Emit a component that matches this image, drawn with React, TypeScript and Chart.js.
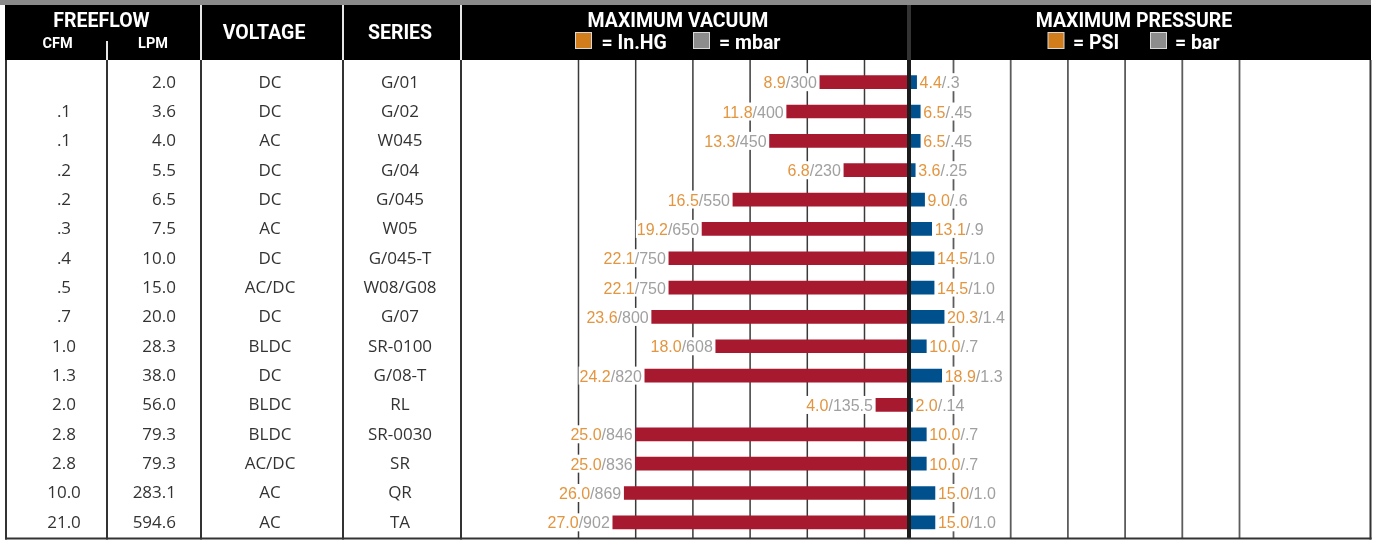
import React, { useEffect, useRef } from 'react';
import { Chart, registerables } from 'chart.js';

Chart.register(...registerables);

// ---------------- data ----------------
const cfm = ['', '.1', '.1', '.2', '.2', '.3', '.4', '.5', '.7', '1.0', '1.3', '2.0', '2.8', '2.8', '10.0', '21.0'];
const lpm = ['2.0', '3.6', '4.0', '5.5', '6.5', '7.5', '10.0', '15.0', '20.0', '28.3', '38.0', '56.0', '79.3', '79.3', '283.1', '594.6'];
const voltage = ['DC', 'DC', 'AC', 'DC', 'DC', 'AC', 'DC', 'AC/DC', 'DC', 'BLDC', 'DC', 'BLDC', 'BLDC', 'AC/DC', 'AC', 'AC'];
const series = ['G/01', 'G/02', 'W045', 'G/04', 'G/045', 'W05', 'G/045-T', 'W08/G08', 'G/07', 'SR-0100', 'G/08-T', 'RL', 'SR-0030', 'SR', 'QR', 'TA'];
const vacuumInHg = [8.9, 11.8, 13.3, 6.8, 16.5, 19.2, 22.1, 22.1, 23.6, 18.0, 24.2, 4.0, 25.0, 25.0, 26.0, 27.0];
const vacuumMbar = ['300', '400', '450', '230', '550', '650', '750', '750', '800', '608', '820', '135.5', '846', '836', '869', '902'];
const pressurePsi = [4.4, 6.5, 6.5, 3.6, 9.0, 13.1, 14.5, 14.5, 20.3, 10.0, 18.9, 2.0, 10.0, 10.0, 15.0, 15.0];
const pressureBar = ['.3', '.45', '.45', '.25', '.6', '.9', '1.0', '1.0', '1.4', '.7', '1.3', '.14', '.7', '.7', '1.0', '1.0'];
const vacuumGridInHg = [5, 10, 15, 20, 25, 30];

// ---------------- layout / style ----------------
const W = 1373;
const H = 540;
const HEADER_TOP = 5;
const HEADER_BOTTOM = 60;
const TABLE_LEFT = 6;
const TABLE_RIGHT = 1370.5;
const TABLE_BOTTOM = 538.5;
const PLOT_LEFT = 461;
const CENTER_X = 909;
const PLOT_RIGHT = 1370;
const ROW_TOP = 67.5;
const ROW_BOTTOM = 537;

const VAC_AT_CENTER = 1.11; // in.Hg value sitting on the centre line
const VAC_PX_PER_UNIT = 11.44;
const VAC_MAX = VAC_AT_CENTER + (CENTER_X - PLOT_LEFT) / VAC_PX_PER_UNIT;
const PSI_PX_PER_UNIT = 1.73;
const PSI_MAX = (PLOT_RIGHT - CENTER_X) / PSI_PX_PER_UNIT;

const RED = '#A6192E';
const BLUE = '#00508E';
const ORANGE_TXT = '#E3953F';
const GREY_TXT = '#A0A0A0';
const ORANGE_KEY = '#D17D1C';
const GREY_KEY = '#8C8C8C';

const HEAD_FONT = 'bold 19.5px Roboto';
const SUB_FONT = 'bold 14.5px Roboto';
const ROW_FONT = '17px "Open Sans"';
const LABEL_FONT = '16px "Liberation Sans"';

function vline(ctx: CanvasRenderingContext2D, x: number, y1: number, y2: number, color: string, w: number) {
  ctx.strokeStyle = color;
  ctx.lineWidth = w;
  ctx.beginPath();
  ctx.moveTo(x, y1);
  ctx.lineTo(x, y2);
  ctx.stroke();
}

function drawPair(ctx: CanvasRenderingContext2D, a: string, b: string, x: number, y: number, align: 'left' | 'right') {
  ctx.font = LABEL_FONT;
  const wa = ctx.measureText(a).width;
  const wb = ctx.measureText(b).width;
  const start = align === 'right' ? x - wa - wb : x;
  ctx.fillStyle = '#fff';
  ctx.fillRect(start - 1, y - 9, wa + wb + 2, 18);
  ctx.textAlign = 'left';
  ctx.textBaseline = 'alphabetic';
  ctx.fillStyle = ORANGE_TXT;
  ctx.fillText(a, start, y + 6);
  ctx.fillStyle = GREY_TXT;
  ctx.fillText(b, start + wa, y + 6);
}

function keySquare(ctx: CanvasRenderingContext2D, x: number, y: number, fill: string) {
  ctx.fillStyle = '#d8d8d8';
  ctx.fillRect(x, y, 17, 17);
  ctx.fillStyle = fill;
  ctx.fillRect(x + 1, y + 1, 15, 15);
}

const tablePlugin = {
  id: 'pumpTable',
  beforeDraw(chart: any) {
    const ctx: CanvasRenderingContext2D = chart.ctx;
    ctx.save();
    ctx.fillStyle = '#fff';
    ctx.fillRect(0, 0, W, H);
    // top strip + header band
    ctx.fillStyle = '#8A8A8A';
    ctx.fillRect(0, 0, 1371, HEADER_TOP);
    ctx.fillStyle = '#000';
    ctx.fillRect(5, HEADER_TOP, 1366, HEADER_BOTTOM - HEADER_TOP);

    // header dividers
    vline(ctx, 107, 41, HEADER_BOTTOM, '#e6e6e6', 2);
    vline(ctx, 201, HEADER_TOP, HEADER_BOTTOM, '#e6e6e6', 2);
    vline(ctx, 343, HEADER_TOP, HEADER_BOTTOM, '#e6e6e6', 2);
    vline(ctx, 461, HEADER_TOP, HEADER_BOTTOM, '#e6e6e6', 2);
    vline(ctx, CENTER_X, HEADER_TOP, HEADER_BOTTOM, '#333', 4);

    // header texts
    ctx.fillStyle = '#fff';
    ctx.textBaseline = 'alphabetic';
    ctx.textAlign = 'center';
    ctx.font = HEAD_FONT;
    ctx.fillText('FREEFLOW', 101.5, 26.5);
    ctx.fillText('VOLTAGE', 264, 39);
    ctx.fillText('SERIES', 400, 39);
    ctx.fillText('MAXIMUM VACUUM', 678, 26.5);
    ctx.fillText('MAXIMUM PRESSURE', 1134, 26.5);
    ctx.font = SUB_FONT;
    ctx.fillText('CFM', 57.5, 48);
    ctx.fillText('LPM', 153, 48);

    // legends
    ctx.textAlign = 'left';
    ctx.font = HEAD_FONT;
    keySquare(ctx, 575, 32, ORANGE_KEY);
    ctx.fillStyle = '#fff';
    ctx.fillText('= In.HG', 601.5, 48.5);
    keySquare(ctx, 693, 32, GREY_KEY);
    ctx.fillStyle = '#fff';
    ctx.fillText('= mbar', 719, 48.5);
    keySquare(ctx, 1047.5, 32, ORANGE_KEY);
    ctx.fillStyle = '#fff';
    ctx.fillText('= PSI', 1073, 48.5);
    keySquare(ctx, 1150, 32, GREY_KEY);
    ctx.fillStyle = '#fff';
    ctx.fillText('= bar', 1175, 48.5);
    ctx.restore();
  },
  beforeDatasetsDraw(chart: any) {
    const ctx: CanvasRenderingContext2D = chart.ctx;
    const xv = chart.scales.xv;
    const centre = xv.getPixelForValue(xv.min);
    ctx.save();
    for (const t of xv.ticks) {
      const px = xv.getPixelForValue(t.value);
      vline(ctx, px, HEADER_BOTTOM, TABLE_BOTTOM, '#3a3a3a', 1.5);
      // pressure side grid mirrors the vacuum grid about the centre line
      vline(ctx, 2 * centre - px, HEADER_BOTTOM, TABLE_BOTTOM, '#5c5c5c', 1.8);
    }
    ctx.restore();
  },
  afterDatasetsDraw(chart: any) {
    const ctx: CanvasRenderingContext2D = chart.ctx;
    const y = chart.scales.y;
    const vMeta = chart.getDatasetMeta(0);
    const pMeta = chart.getDatasetMeta(1);
    ctx.save();

    // value labels
    vMeta.data.forEach((el: any, i: number) => {
      const left = Math.min(el.x, el.base);
      drawPair(ctx, vacuumInHg[i].toFixed(1), '/' + vacuumMbar[i], left - 3, el.y, 'right');
    });
    pMeta.data.forEach((el: any, i: number) => {
      const right = Math.max(el.x, el.base);
      drawPair(ctx, pressurePsi[i].toFixed(1), '/' + pressureBar[i], right + 3, el.y, 'left');
    });

    // left table columns
    ctx.font = ROW_FONT;
    ctx.fillStyle = '#333';
    ctx.textBaseline = 'alphabetic';
    for (let i = 0; i < series.length; i++) {
      const yc = y.getPixelForValue(i) + 5.5;
      ctx.textAlign = 'center';
      ctx.fillText(cfm[i], 64, yc);
      ctx.textAlign = 'right';
      ctx.fillText(lpm[i], 176, yc);
      ctx.textAlign = 'center';
      ctx.fillText(voltage[i], 270, yc);
      ctx.fillText(series[i], 400, yc);
    }

    // table rules
    [TABLE_LEFT, 107, 201, 343, 461, TABLE_RIGHT].forEach((x) => vline(ctx, x, HEADER_BOTTOM, TABLE_BOTTOM + 1, '#333', 2));
    vline(ctx, CENTER_X, HEADER_BOTTOM, TABLE_BOTTOM, '#1c1c1c', 4);
    ctx.strokeStyle = '#333';
    ctx.lineWidth = 2;
    ctx.beginPath();
    ctx.moveTo(5, TABLE_BOTTOM);
    ctx.lineTo(TABLE_RIGHT + 1, TABLE_BOTTOM);
    ctx.stroke();
    ctx.restore();
  },
};

export default function App() {
  const ref = useRef<HTMLCanvasElement | null>(null);

  useEffect(() => {
    if (!ref.current) return;
    const hiddenAxis = {
      display: true,
      grid: { display: false, drawTicks: false },
      border: { display: false },
      ticks: { display: false },
    };
    const chart = new Chart(ref.current, {
      type: 'bar',
      data: {
        labels: series,
        datasets: [
          {
            label: 'Maximum vacuum (in.Hg)',
            data: vacuumInHg,
            xAxisID: 'xv',
            backgroundColor: RED,
            borderWidth: 0,
            barThickness: 13,
            grouped: false,
          },
          {
            label: 'Maximum pressure (PSI)',
            data: pressurePsi,
            xAxisID: 'xp',
            backgroundColor: BLUE,
            borderWidth: 0,
            barThickness: 13,
            grouped: false,
          },
        ],
      },
      options: {
        indexAxis: 'y',
        responsive: false,
        maintainAspectRatio: false,
        animation: false,
        events: [],
        layout: {
          padding: { left: PLOT_LEFT, right: W - PLOT_RIGHT, top: ROW_TOP, bottom: H - ROW_BOTTOM },
        },
        plugins: { legend: { display: false }, tooltip: { enabled: false } },
        scales: {
          y: { type: 'category', display: false, offset: true },
          xv: {
            ...hiddenAxis,
            type: 'linear',
            position: 'bottom',
            stack: 'values',
            stackWeight: CENTER_X - PLOT_LEFT,
            reverse: true,
            min: VAC_AT_CENTER,
            max: VAC_MAX,
            afterBuildTicks: (scale: any) => {
              scale.ticks = vacuumGridInHg.map((v) => ({ value: v }));
            },
          },
          xp: {
            ...hiddenAxis,
            type: 'linear',
            position: 'bottom',
            stack: 'values',
            stackWeight: PLOT_RIGHT - CENTER_X,
            min: 0,
            max: PSI_MAX,
          },
        },
      } as any,
      plugins: [tablePlugin],
    });
    const fonts: any = (document as any).fonts;
    if (fonts && fonts.load) {
      Promise.all([fonts.load(HEAD_FONT), fonts.load(SUB_FONT), fonts.load(ROW_FONT), fonts.load(LABEL_FONT)])
        .then(() => chart.draw())
        .catch(() => {});
    }
    return () => chart.destroy();
  }, []);

  return (
    <div style={{ position: 'absolute', left: 0, top: 0, width: W, height: H }}>
      <canvas ref={ref} width={W} height={H} style={{ display: 'block', width: W, height: H }} />
    </div>
  );
}
